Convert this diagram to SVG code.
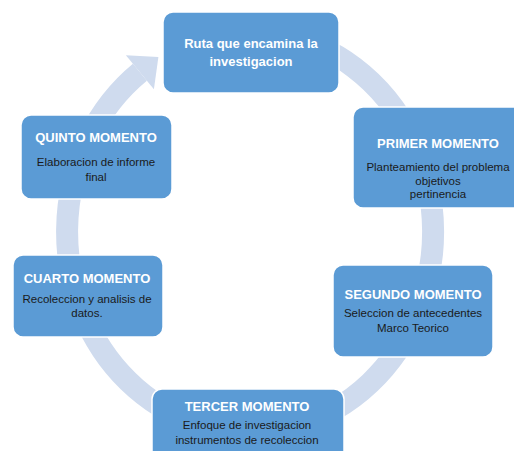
<svg xmlns="http://www.w3.org/2000/svg" width="514" height="451" viewBox="0 0 514 451">
<style>
.box{fill:#5b9bd5;stroke:#ffffff;stroke-width:1.5}
.t{font-family:"Liberation Sans",Arial,sans-serif;font-weight:bold;font-size:13px;fill:#ffffff;text-anchor:middle}
.b{font-family:"Liberation Sans",Arial,sans-serif;font-size:11.5px;fill:#1a1a1a;text-anchor:middle}
.ring{fill:none;stroke:#cfdbee;stroke-width:22}
</style>
<rect width="514" height="451" fill="#ffffff"/>
<g id="connectors">
<path class="ring" d="M 281.8 35 A 183 200 0 1 1 139.9 72.3"/>
<polygon points="125.9,55.3 158.4,57 153.9,89.3" fill="#cfdbee"/>
</g>
<g id="node-ruta">
<rect class="box" x="163" y="12" width="176" height="81" rx="10"/>
<text class="t" x="251" y="48">Ruta que encamina la</text>
<text class="t" x="251" y="66">investigacion</text>
</g>
<g id="node-primer">
<rect class="box" x="353" y="107" width="170" height="101" rx="10"/>
<text class="t" x="438" y="148">PRIMER MOMENTO</text>
<text class="b" x="438" y="171">Planteamiento del problema</text>
<text class="b" x="438" y="184.5">objetivos</text>
<text class="b" x="438" y="198">pertinencia</text>
</g>
<g id="node-segundo">
<rect class="box" x="333" y="265" width="160" height="92" rx="10"/>
<text class="t" x="413" y="298.5">SEGUNDO MOMENTO</text>
<text class="b" x="413" y="317">Seleccion de antecedentes</text>
<text class="b" x="413" y="332">Marco Teorico</text>
</g>
<g id="node-tercer">
<rect class="box" x="152" y="389" width="192" height="72" rx="10"/>
<text class="t" x="247" y="410.5">TERCER MOMENTO</text>
<text class="b" x="247" y="429">Enfoque de investigacion</text>
<text class="b" x="247" y="444">instrumentos de recoleccion</text>
</g>
<g id="node-cuarto">
<rect class="box" x="13" y="255" width="150" height="82" rx="10"/>
<text class="t" x="87" y="283">CUARTO MOMENTO</text>
<text class="b" x="87" y="302.5">Recoleccion y analisis de</text>
<text class="b" x="87" y="316.5">datos.</text>
</g>
<g id="node-quinto">
<rect class="box" x="21" y="115" width="151" height="84" rx="10"/>
<text class="t" x="96" y="141.5">QUINTO MOMENTO</text>
<text class="b" x="96" y="166">Elaboracion de informe</text>
<text class="b" x="96" y="181">final</text>
</g>
</svg>
